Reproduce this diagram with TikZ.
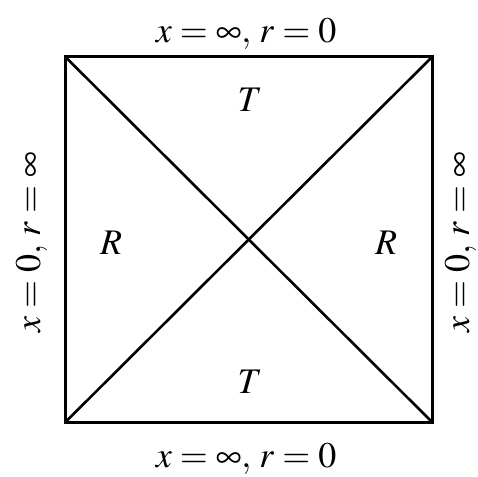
\documentclass[tikz,border=0pt]{standalone}
\usepackage{mathptmx}
\begin{document}
\begin{tikzpicture}[x=1pt,y=1pt,
  lbl/.style={font=\fontsize{36}{42}\selectfont, inner sep=0pt, anchor=base},
  edge/.style={line width=3pt, line join=miter}]
\useasboundingbox (0,0) rectangle (478,476);
\coordinate (tl) at (65.5,419);
\coordinate (tr) at (432,419);
\coordinate (br) at (432,54);
\coordinate (bl) at (65.5,54);
\draw[edge] (tl) -- (tr) -- (br) -- (bl) -- cycle;
\draw[line width=2.6pt] (tl) -- (br);
\draw[line width=2.6pt] (bl) -- (tr);
\node[lbl] (top) at (246,433) {$x=\infty,\, r=0$};
\node[lbl] (bot) at (246,9) {$x=\infty,\, r=0$};
\node[lbl, rotate=90] (left) at (40,234) {$x=0,\, r=\infty$};
\node[lbl, rotate=90] (right) at (469,234) {$x=0,\, r=\infty$};
\node[lbl] (rl) at (111,221) {$R$};
\node[lbl] (rr) at (386,221) {$R$};
\node[lbl] (tt) at (250,364) {$T$};
\node[lbl] (tb) at (250,83) {$T$};
\end{tikzpicture}
\end{document}
